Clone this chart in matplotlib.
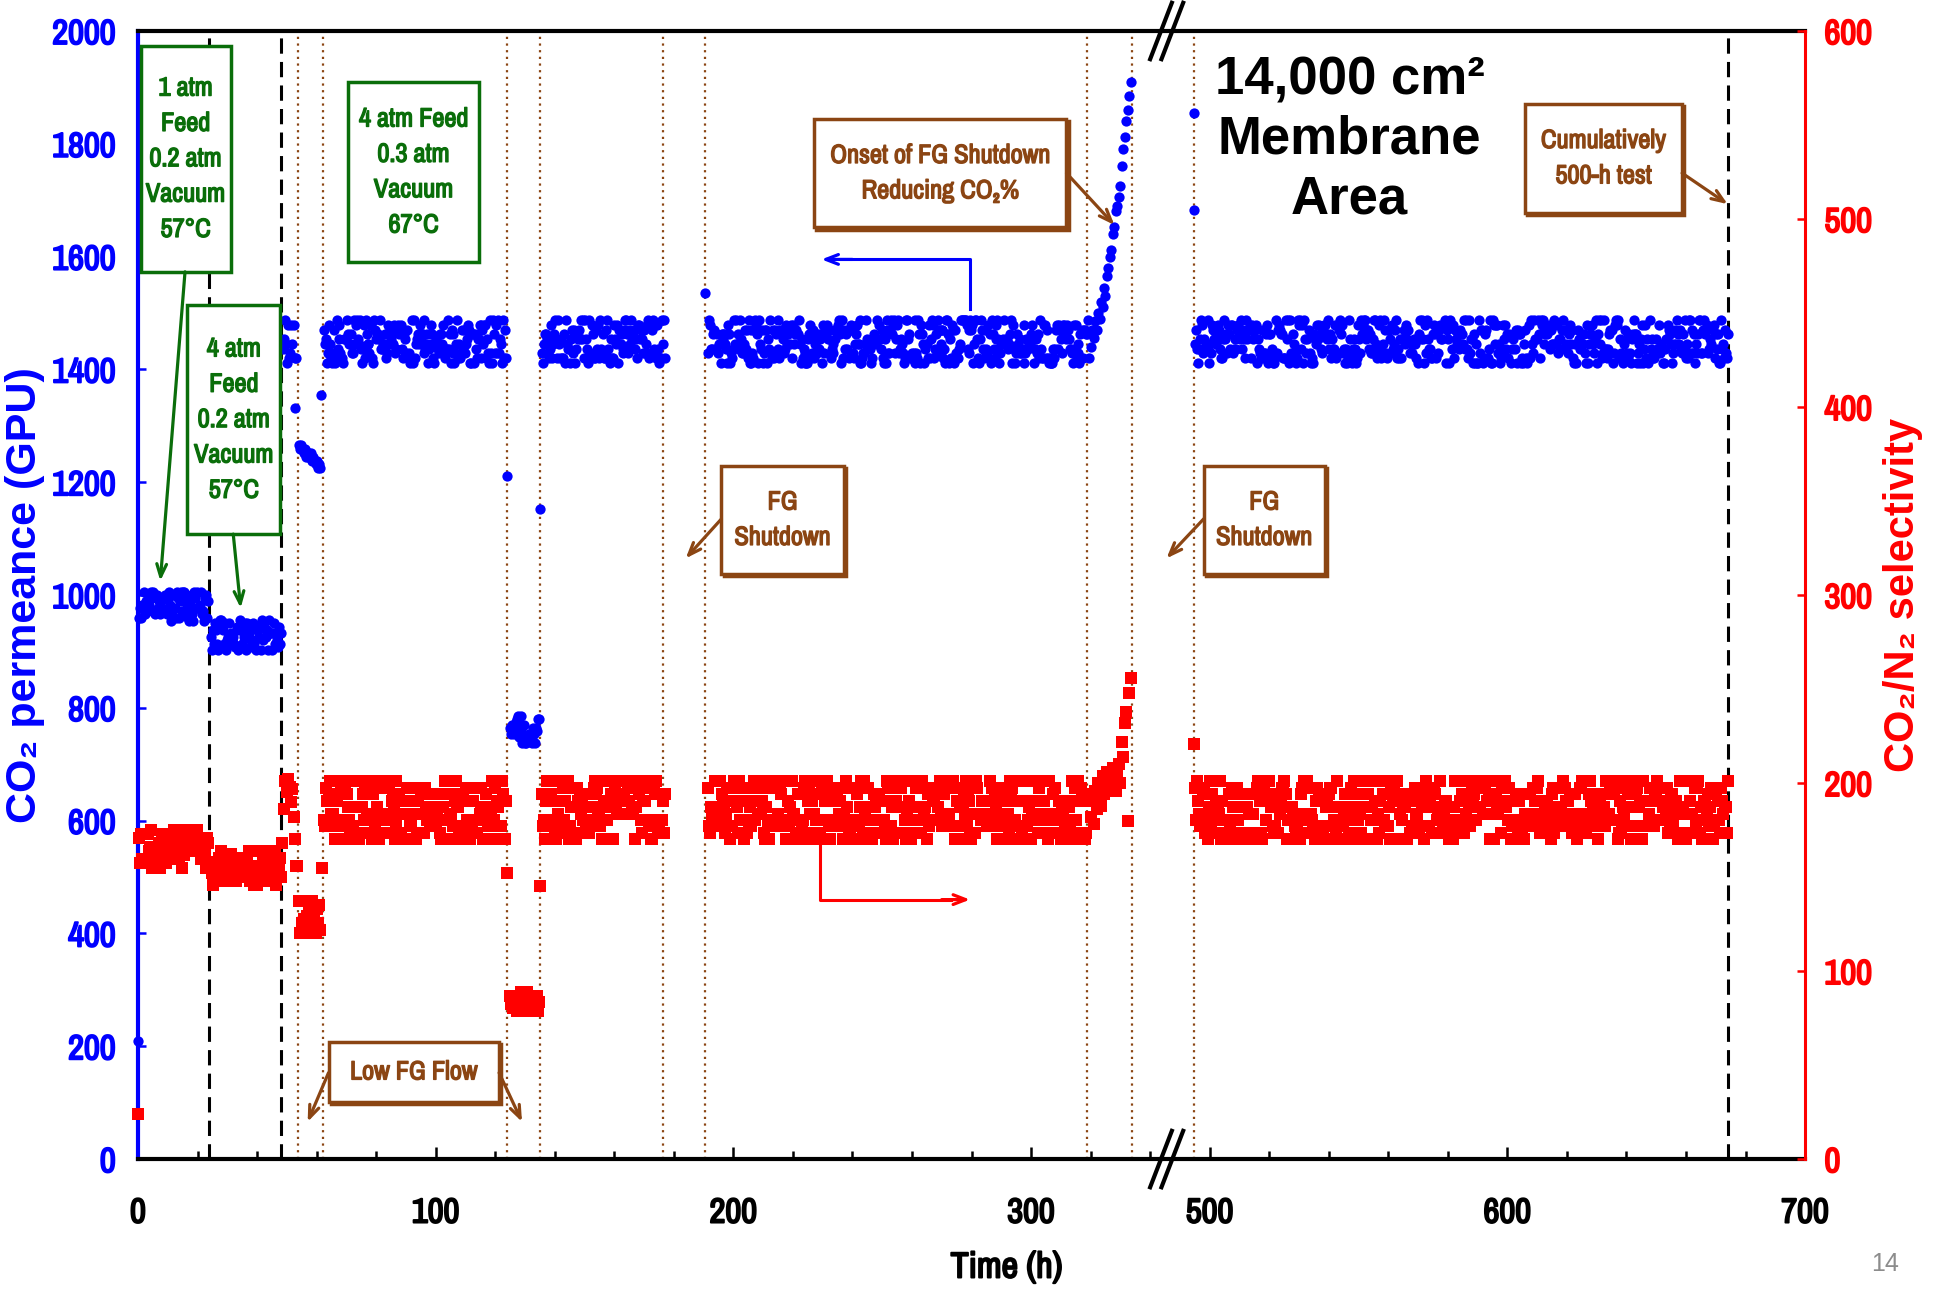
import numpy as np
import matplotlib.pyplot as plt
from matplotlib.patches import Rectangle
from matplotlib import patheffects as pe

# ---------------- data (time in hours on test) ----------------
# Each run of readings: start h, end h, band low, band high and one digit per
# reading (0 = bottom of the band ... 9 = top of the band).
perm_start = [0.5, 24.5, 48.6, 54.0, 62.5, 125.0, 135.6, 191.5, 495.2]
perm_end = [23.5, 48.0, 53.0, 61.3, 123.5, 134.6, 177.0, 319.5, 674.0]
perm_low = [954, 902, 1412, 1204, 1412, 737, 1412, 1412, 1412]
perm_high = [1006, 956, 1487, 1266, 1487, 786, 1487, 1487, 1487]
perm_codes = [
    "141592653589793238462643383279502884197169399375105820974944592307816",
    "406286208998628034825342117067982148086513282306647093844609550582231725",
    "3594081284811",
    "9898878676767565545343",
    ("745028410270193852110555964462294895493038196442881097566593344"
     "612847564823378678316527120190914564856692346034861045432664821"
     "339360726024914127372458700660631558817488152092096282925409171"),
    "53643678925903600113305305488",
    ("204665213841469519415116094330572703657595919530921861173819326"
     "117931051185480744623799627495673518857527248912279381830119491"),
    ("298336733624406566430860213949463952247371907021798609437027705392"
     "171762931767523846748184676694051320005681271452635608277857713427"
     "577896091736371787214684409012249534301465495853710507922796892589"
     "235420199561121290219608640344181598136297747713099605187072113499"
     "999983729780499510597317328160963185950244594553469083026425223082"
     "533446850352619311881710100031378387528865875332083814206171776691"),
    ("473035982534904287554687311595628638823537875937519577818577805321"
     "712268066130019278766111959092164201989380952572010654858632788659"
     "361533818279682303019520353018529689957736225994138912497217752834"
     "791315155748572424541506959508295331168617278558890750983817546374"
     "649393192550604009277016711390098488240128583616035637076601047101"
     "819429555961989467678374494482553797747268471040475346462080466842"
     "590694912933136770289891521047521620569660240580381501935112533824"
     "300355876402474964732639141992726042699227967823547816360093417216"),
]

sel_start = [0.5, 24.5, 54.0, 62.5, 125.0, 135.6, 191.5, 495.2]
sel_end = [23.5, 48.0, 61.3, 123.5, 134.6, 177.0, 319.5, 674.0]
sel_low = [155, 146, 120, 170, 79, 170, 170, 170]
sel_high = [175, 164, 137, 201, 89, 201, 201, 201]
sel_codes = [
    "718281828459045235360287471352662497757247093699959574966967627724076",
    "630353547594571382178525166427427466391932003059921817413596629043572",
    "9003342952605956307381",
    ("328627943490763233829880753195251019011573834187930702154089149"
     "934884167509244761460668082264800168477411853742345442437107539"
     "077744992069551702761838606261331384583000752044933826560297606"),
    "73711320070932870912744374704",
    ("723069697720931014169283681902551510865746377211125238978442505"
     "695369677078544996996794686445490598793163688923009879312773617"),
    ("821542499922957635148220826989519366803318252886939849646510582093"
     "923982948879332036250944311730123819706841614039701983767932068328"
     "237646480429531180232878250981945581530175671736133206981125099618"
     "188159304169035159888851934580727386673858942287922849989208680582"
     "574927961048419844436346324496848756023362482704197862320900216099"
     "023530436994184914631409343173814364054625315209618369088870701676"),
    ("839642437814059271456354906130310720851038375051011574770417189861"
     "068739696552126715468895703503540212340784981933432106817012100562"
     "788023519303322474501585390473041995777709350366041699732972508868"
     "769664035557071622684471625607988265178713419512466520103059212366"
     "771943252786753985589448969709640975459185695638023637016211204774"
     "272283648961342251644507818244235294863637214174023889344124796357"
     "437026375529444833799801612549227850925778256209262264832627793338"
     "656648162772516401910590049164499828931505660472580277863186415519"),
]

# recovery after the 4 atm switch (selectivity)
sel_jump_t = [48.4, 48.9, 49.4, 49.9, 50.4, 50.9, 51.4, 51.9, 52.4, 52.9, 53.2]
sel_jump = [168, 186, 201, 195, 202, 198, 190, 197, 182, 170, 156]

# onset of FG shutdown, reducing CO2 %
rise_t = [320.0, 320.5, 321.0, 321.5, 322.0, 322.5, 323.0, 323.5, 324.0, 324.5,
          325.0, 325.5, 326.0, 326.5, 327.0, 327.5, 328.0, 328.5, 329.0, 329.5,
          330.0, 330.5, 331.0, 331.5, 332.0, 332.5, 333.0, 333.5]
rise_perm = [1440, 1470, 1455, 1485, 1470, 1500, 1490, 1520, 1510, 1545,
             1530, 1565, 1580, 1600, 1612, 1640, 1652, 1680, 1690, 1705,
             1725, 1760, 1790, 1812, 1840, 1860, 1885, 1910]
rise_sel = [182, 194, 178, 196, 186, 200, 192, 188, 204, 194,
            198, 206, 196, 203, 200, 208, 203, 196, 206, 210,
            200, 222, 214, 232, 238, 180, 248, 256]

# single readings at the transitions
perm_odd_t = [0.0, 52.7, 61.5, 123.8, 135.0, 190.6, 494.6, 494.8]
perm_odd = [210, 1332, 1354, 1211, 1152, 1535, 1855, 1683]
sel_odd_t = [0.0, 53.3, 61.7, 123.8, 135.0, 494.6]
sel_odd = [24, 156, 155, 152, 145, 221]

dashed_t = [23.7, 48.2, 674.0]
dotted_t = [53.6, 62.3, 123.8, 135.0, 176.5, 190.6, 318.9, 333.9, 494.6]

major_t = [0, 100, 200, 300, 500, 600, 700]
minor_t = [20, 40, 60, 80, 120, 140, 160, 180, 220, 240, 260, 280, 320, 340,
           520, 540, 560, 580, 620, 640, 660, 680]

GAP = 140  # hours cut out of the axis between the two parts


def xpos(t):
    t = np.asarray(t, float)
    return np.where(t > 400, t - GAP, t)


def decode(start, end, lo, hi, code):
    d = np.array([int(c) for c in code], float)
    return np.linspace(start, end, len(d)), lo + d * (hi - lo) / 9.0


BLUE = '#0000FF'
RED = '#FF0000'
GREEN = '#0A6E0A'
BROWN = '#8B4513'
NARROW = ['Archivo Narrow', 'Liberation Sans', 'DejaVu Sans']
ARIAL = ['Liberation Sans', 'DejaVu Sans']


def heavy(color, w=1.4):
    # the narrow face has no bold cut here, so thicken it with a stroke
    return [pe.withStroke(linewidth=w, foreground=color)]


fig, ax = plt.subplots(figsize=(19.38, 12.91), dpi=100)
fig.subplots_adjust(left=0.0712, right=0.9314, top=0.976, bottom=0.1022)
ax2 = ax.twinx()

# vertical markers
for t in dashed_t:
    ax.axvline(xpos(t), color='k', lw=2.2, ls=(0, (5, 2.7)), zorder=1)
for t in dotted_t:
    ax.axvline(xpos(t), color=BROWN, lw=1.6, ls=(0, (1, 2)), zorder=1)

# permeance
pt, pv = [], []
for s, e, lo, hi, c in zip(perm_start, perm_end, perm_low, perm_high, perm_codes):
    t, v = decode(s, e, lo, hi, c)
    pt.append(t)
    pv.append(v)
pt = np.concatenate(pt + [np.array(rise_t), np.array(perm_odd_t)])
pv = np.concatenate(pv + [np.array(rise_perm), np.array(perm_odd)])
ax.plot(xpos(pt), pv, 'o', color=BLUE, ms=7.4, mew=0, zorder=3, clip_on=False)

# selectivity
st, sv = [], []
for s, e, lo, hi, c in zip(sel_start, sel_end, sel_low, sel_high, sel_codes):
    t, v = decode(s, e, lo, hi, c)
    st.append(t)
    sv.append(v)
st = np.concatenate(st + [np.array(sel_jump_t), np.array(rise_t), np.array(sel_odd_t)])
sv = np.concatenate(sv + [np.array(sel_jump), np.array(rise_sel), np.array(sel_odd)])
ax2.plot(xpos(st), sv, 's', color=RED, ms=8.4, mew=0, zorder=3, clip_on=False)

# axes
ax.set_xlim(0, 560)
ax.set_ylim(0, 2000)
ax2.set_ylim(0, 600)

tick_font = dict(fontsize=25, fontweight='bold', family=NARROW)
ax.set_xticks(xpos(major_t), [str(t) for t in major_t],
              path_effects=heavy('k'), **tick_font)
ax.set_xticks(xpos(minor_t), minor=True)
ax.set_yticks(range(0, 2001, 200), [str(v) for v in range(0, 2001, 200)],
              color=BLUE, path_effects=heavy(BLUE), **tick_font)
ax2.set_yticks(range(0, 601, 100), [str(v) for v in range(0, 601, 100)],
               color=RED, path_effects=heavy(RED), **tick_font)

ax.tick_params(axis='x', which='major', direction='in', length=9, width=1.8, pad=27)
ax.tick_params(axis='x', which='minor', direction='in', length=6, width=1.8)
ax.tick_params(axis='y', direction='in', length=6, width=1.8, color=BLUE, pad=16)
ax2.tick_params(axis='y', direction='in', length=6, width=1.8, color=RED, pad=14)

ax.spines['left'].set_color(BLUE)
ax.spines['left'].set_linewidth(3)
ax.spines['right'].set_visible(False)
for sp in ['top', 'bottom']:
    ax.spines[sp].set_linewidth(3)
for sp in ['left', 'top', 'bottom']:
    ax2.spines[sp].set_visible(False)
ax2.spines['right'].set_color(RED)
ax2.spines['right'].set_linewidth(2.2)

ax.set_xlabel('Time (h)', fontsize=26, fontweight='bold', family=NARROW, va='center',
              path_effects=heavy('k'))
ax.xaxis.set_label_coords(0.521, -0.0957)
ax.set_ylabel('CO\u2082 permeance (GPU)', color=BLUE, fontsize=31,
              fontweight='bold', family=ARIAL, ha='center', va='center')
ax.yaxis.set_label_coords(-0.068, 0.5)
ax2.set_ylabel('CO\u2082/N\u2082 selectivity', color=RED, fontsize=30,
               fontweight='bold', family=ARIAL, ha='center', va='center',
               rotation=90)
ax2.yaxis.set_label_coords(1.059, 0.5)

# axis break marks
brk = ax.get_xaxis_transform()
for y in (0, 1):
    for x0 in (340.0, 343.8):
        ax.plot([x0, x0 + 7.3], [y - 0.025, y + 0.025], color='k', lw=3,
                transform=brk, clip_on=False, zorder=7)


# annotation boxes: (left, right, bottom, top) in plot units
def box(x0, x1, y0, y1, s, color, size=19, ls=1.65, shadow=False):
    if shadow:
        ax.add_patch(Rectangle((x0 + 0.7, y0 - 4), x1 - x0, y1 - y0, fc=color,
                               ec=color, lw=2.5, zorder=4.9))
    ax.add_patch(Rectangle((x0, y0), x1 - x0, y1 - y0, fc='white', ec=color,
                           lw=2.5, zorder=5))
    ax.text((x0 + x1) / 2, (y0 + y1) / 2, s, color=color, fontsize=size,
            fontweight='bold', family=NARROW, ha='center', va='center',
            multialignment='center', linespacing=ls, zorder=6,
            path_effects=heavy(color, 1.0))


def arrow(start, tip, color):
    ax.annotate('', xy=tip, xytext=start, zorder=6,
                arrowprops=dict(arrowstyle='->,head_length=0.9,head_width=0.35',
                                color=color, lw=2.3, shrinkA=0, shrinkB=0))


box(0.9, 31.1, 1573, 1974, '1 atm\nFeed\n0.2 atm\nVacuum\n57\u00b0C', GREEN)
arrow((15.8, 1573), (7.5, 1025), GREEN)
box(16.6, 47.8, 1108, 1514, '4 atm\nFeed\n0.2 atm\nVacuum\n57\u00b0C', GREEN)
arrow((32.0, 1108), (34.5, 977), GREEN)
box(70.6, 114.6, 1590, 1910, '4 atm Feed\n0.3 atm\nVacuum\n67\u00b0C', GREEN)

box(227.2, 311.9, 1652, 1844, 'Onset of FG Shutdown\nReducing CO\u2082%', BROWN,
    shadow=True)
arrow((311.9, 1748), (328.0, 1656), BROWN)
box(196.0, 237.1, 1038, 1229, 'FG\nShutdown', BROWN, shadow=True)
arrow((196.0, 1135), (184.0, 1065), BROWN)
box(358.0, 398.7, 1038, 1229, 'FG\nShutdown', BROWN, shadow=True)
arrow((358.0, 1135), (345.5, 1065), BROWN)
box(64.0, 121.3, 101, 208, 'Low FG Flow', BROWN, shadow=True)
arrow((64.0, 153), (57.0, 66), BROWN)
arrow((121.3, 153), (129.0, 66), BROWN)
box(466.0, 518.7, 1678, 1871, 'Cumulatively\n500-h test', BROWN, shadow=True)
arrow((518.7, 1748), (534.0, 1693), BROWN)

# which data goes to which axis
ax.plot([279.5, 279.5, 236], [1507, 1595, 1595], color=BLUE, lw=2.2, zorder=4)
arrow((240, 1595), (229.6, 1595), BLUE)
ax.plot([229, 229, 273], [565, 460, 460], color=RED, lw=2.2, zorder=4)
arrow((270, 460), (279.5, 460), RED)

ax.text(407, 1807, '14,000 cm\u00b2\nMembrane\nArea', fontsize=38, fontweight='bold',
        family=ARIAL, ha='center', va='center', linespacing=1.25, zorder=6)

fig.text(0.9727, 0.012, '14', color='#8c8c8c', fontsize=18, family=ARIAL,
         ha='center', va='bottom')

fig.savefig('out.png', dpi=100)
